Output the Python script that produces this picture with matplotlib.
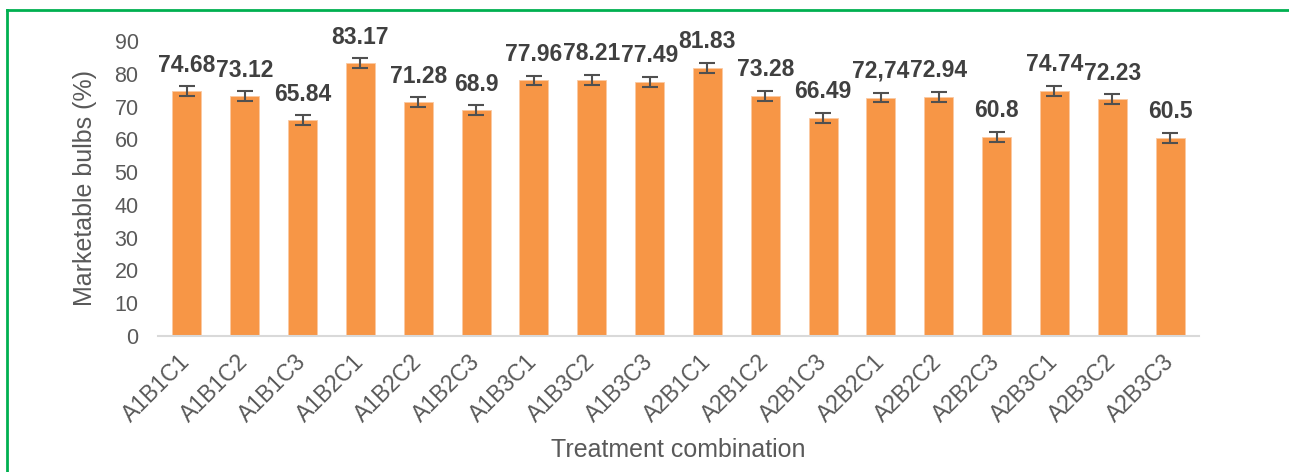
import matplotlib
matplotlib.use("Agg")
import matplotlib.pyplot as plt
from matplotlib.lines import Line2D

categories = ["A1B1C1", "A1B1C2", "A1B1C3", "A1B2C1", "A1B2C2", "A1B2C3",
              "A1B3C1", "A1B3C2", "A1B3C3", "A2B1C1", "A2B1C2", "A2B1C3",
              "A2B2C1", "A2B2C2", "A2B2C3", "A2B3C1", "A2B3C2", "A2B3C3"]
values = [74.68, 73.12, 65.84, 83.17, 71.28, 68.9, 77.96, 78.21, 77.49,
          81.83, 73.28, 66.49, 72.74, 72.94, 60.8, 74.74, 72.23, 60.5]
errors = [1.5] * 18
labels = ["74.68", "73.12", "65.84", "83.17", "71.28", "68.9", "77.96", "78.21", "77.49",
          "81.83", "73.28", "66.49", "72,74", "72.94", "60.8", "74.74", "72.23", "60.5"]
yticks = [0, 10, 20, 30, 40, 50, 60, 70, 80, 90]

plt.rcParams['font.family'] = ['Liberation Sans', 'DejaVu Sans']

W, H = 1289, 472
fig = plt.figure(figsize=(W / 100, H / 100), dpi=100)
ax = fig.add_axes([158 / W, 1 - 336 / H, (1199 - 158) / W, (336 - 41) / H])

x = list(range(len(categories)))
ax.bar(x, values, width=0.5, color="#F79646", edgecolor="#FBC9A2", linewidth=0.6, zorder=2)
ax.errorbar(x, values, yerr=errors, fmt="none", ecolor="#505050", elinewidth=1.5,
            capsize=6, capthick=1.5, zorder=3)

for xi, v, lab in zip(x, values, labels):
    ax.annotate(lab, (xi, v), xytext=(0, 10.5), textcoords="offset points",
                ha="center", va="bottom", fontsize=16.5, fontweight="bold", color="#404040")

ax.set_xlim(-0.5, len(categories) - 0.5)
ax.set_ylim(0, 90)
ax.set_yticks(yticks)
ax.set_yticklabels([str(t) for t in yticks], fontsize=15.5, color="#595959")
ax.set_xticks(x)
ax.set_xticklabels(categories, rotation=45, ha="right", va="center", rotation_mode="anchor",
                   fontsize=16.5, color="#595959")
ax.tick_params(axis="both", length=0)
ax.tick_params(axis="y", pad=14)
ax.tick_params(axis="x", pad=16)
for s in ["top", "right", "left"]:
    ax.spines[s].set_visible(False)
ax.spines["bottom"].set_color("#D9D9D9")
ax.spines["bottom"].set_linewidth(1.5)

fig.text(85 / W, 1 - 188 / H, "Marketable bulbs (%)", rotation=90,
         ha="center", va="center", fontsize=18, color="#595959")
fig.text((158 + 1199) / 2 / W, 1 - 450 / H, "Treatment combination",
         ha="center", va="center", fontsize=18, color="#595959")

# green frame
fig.add_artist(Line2D([7 / W, 1.0], [1 - 10 / H, 1 - 10 / H], color="#00B050",
                      linewidth=2, transform=fig.transFigure))
fig.add_artist(Line2D([7 / W, 7 / W], [0.0, 1 - 10 / H], color="#00B050",
                      linewidth=2, transform=fig.transFigure))

fig.savefig("out.png", dpi=100)
